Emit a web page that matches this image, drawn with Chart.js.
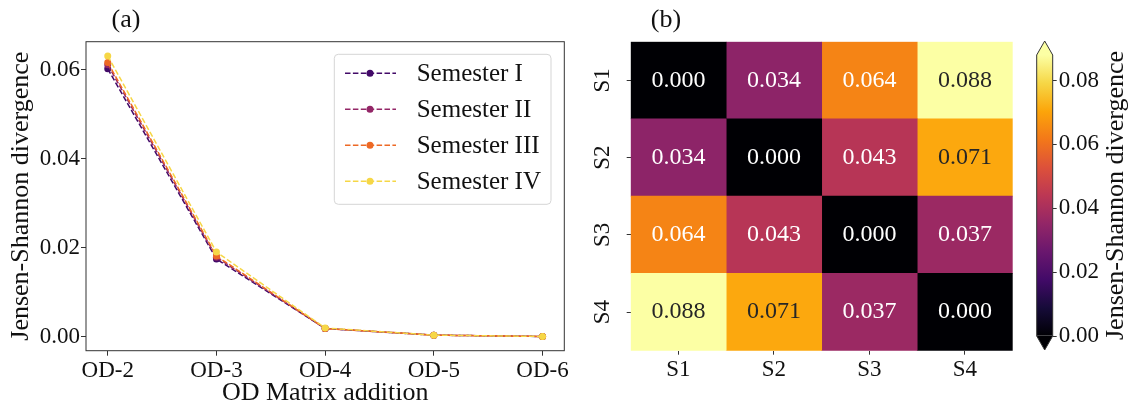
<!DOCTYPE html>
<html>
<head>
<meta charset="utf-8">
<script src="https://cdn.jsdelivr.net/npm/chart.js@4.4.1/dist/chart.umd.min.js"></script>
<style>
  html, body { margin: 0; padding: 0; background: #fff; }
  #wrap { position: relative; width: 1128px; height: 406px; }
  .box { position: absolute; top: 0; height: 406px; }
  #boxA { left: 0; width: 580px; }
  #boxB { left: 580px; width: 440px; }
  #boxC { left: 1020px; width: 108px; }
</style>
</head>
<body>
<div id="wrap">
  <div class="box" id="boxA"><canvas id="lineChart"></canvas></div>
  <div class="box" id="boxB"><canvas id="heatChart"></canvas></div>
  <div class="box" id="boxC"><canvas id="barChart"></canvas></div>
</div>
<script>
// panel (a) data
var odLabels = ['OD-2', 'OD-3', 'OD-4', 'OD-5', 'OD-6'];
var semesterNames = ['Semester I', 'Semester II', 'Semester III', 'Semester IV'];
var semester1 = [0.0602, 0.0174, 0.0018, 0.0003, 0.0000];
var semester2 = [0.0611, 0.0178, 0.0018, 0.0003, 0.0000];
var semester3 = [0.0616, 0.0181, 0.0018, 0.0003, 0.0000];
var semester4 = [0.0631, 0.0190, 0.0019, 0.0003, 0.0000];
var lineColors = ['#420a68', '#932667', '#ed6925', '#f6d746'];
var yTicks = [0, 0.02, 0.04, 0.06];

// panel (b) data
var semLabels = ['S1', 'S2', 'S3', 'S4'];
var jsdMatrix = [
  [0.000, 0.034, 0.064, 0.088],
  [0.034, 0.000, 0.043, 0.071],
  [0.064, 0.043, 0.000, 0.037],
  [0.088, 0.071, 0.037, 0.000]
];
var colorbarTicks = [0, 0.02, 0.04, 0.06, 0.08];

var fontFamily = "'Liberation Serif', serif";
var axisColor = '#333';
Chart.defaults.font.family = fontFamily;
Chart.defaults.color = '#111';

// inferno colormap, stops every 0.1
var infernoStops = ['#000004', '#160b39', '#420a68', '#6a176e', '#932667', '#bc3754',
  '#dd513a', '#f37819', '#fca50a', '#f6d746', '#fcffa4'];
function hexRgb(h) {
  return [parseInt(h.substr(1, 2), 16), parseInt(h.substr(3, 2), 16), parseInt(h.substr(5, 2), 16)];
}
function inferno(t) {
  t = Math.max(0, Math.min(1, t));
  var p = t * 10, i = Math.min(9, Math.floor(p)), f = p - i;
  var a = hexRgb(infernoStops[i]), b = hexRgb(infernoStops[i + 1]);
  var c = a.map(function (v, k) { return Math.round(v + (b[k] - v) * f); });
  return 'rgb(' + c.join(',') + ')';
}
function textColorFor(rgb) {
  // same rule as seaborn: dark text on light cells
  var c = rgb.match(/\d+/g).map(function (v) {
    v = v / 255;
    return v <= 0.03928 ? v / 12.92 : Math.pow((v + 0.055) / 1.055, 2.4);
  });
  var lum = 0.2126 * c[0] + 0.7152 * c[1] + 0.0722 * c[2];
  return lum > 0.408 ? '#262626' : '#ffffff';
}
var vmax = Math.max.apply(null, jsdMatrix.map(function (r) { return Math.max.apply(null, r); }));

function panelLabel(text, dx) {
  return {
    id: 'panelLabel',
    afterDraw: function (chart) {
      var c = chart.ctx;
      c.save();
      c.font = '26px ' + fontFamily;
      c.fillStyle = '#111';
      c.textAlign = 'center';
      c.textBaseline = 'middle';
      c.fillText(text, chart.chartArea.left + dx, 20);
      c.restore();
    }
  };
}

// ---------- (a) line chart ----------
var framePlugin = {
  id: 'frame',
  afterDraw: function (chart) {
    var a = chart.chartArea, c = chart.ctx;
    c.save();
    c.strokeStyle = axisColor;
    c.lineWidth = 1;
    c.strokeRect(a.left, a.top, a.right - a.left, a.bottom - a.top);
    c.restore();
  }
};

var legendPlugin = {
  id: 'boxLegend',
  afterDraw: function (chart) {
    var a = chart.chartArea, c = chart.ctx;
    var w = 216.7, h = 150;
    var left = a.right - 13.3 - w, top = a.top + 12.6;
    c.save();
    c.beginPath();
    c.roundRect(left, top, w, h, 4);
    c.fillStyle = 'rgba(255,255,255,0.8)';
    c.fill();
    c.strokeStyle = '#d5d5d5';
    c.lineWidth = 1;
    c.stroke();
    chart.data.datasets.forEach(function (ds, k) {
      var y = top + 19 + 36 * k;
      c.strokeStyle = ds.borderColor;
      c.lineWidth = 1.5;
      c.setLineDash([5.5, 2.4]);
      c.beginPath();
      c.moveTo(left + 10.7, y);
      c.lineTo(left + 61.7, y);
      c.stroke();
      c.setLineDash([]);
      c.fillStyle = ds.borderColor;
      c.beginPath();
      c.arc(left + 35.7, y, 3.5, 0, Math.PI * 2);
      c.fill();
      c.fillStyle = '#111';
      c.font = '25px ' + fontFamily;
      c.textAlign = 'left';
      c.textBaseline = 'middle';
      c.fillText(ds.label, left + 82.4, y + 1);
    });
    c.restore();
  }
};

var lineDatasets = [semester1, semester2, semester3, semester4].map(function (vals, k) {
  return {
    label: semesterNames[k],
    data: vals.map(function (v, i) { return { x: i, y: v }; }),
    borderColor: lineColors[k],
    backgroundColor: lineColors[k],
    borderWidth: 1.5,
    borderDash: [5.5, 2.4],
    pointRadius: 3.5,
    pointBorderWidth: 0,
    tension: 0,
    order: 3 - k
  };
});

new Chart(document.getElementById('lineChart'), {
  type: 'line',
  data: { datasets: lineDatasets },
  options: {
    responsive: true,
    maintainAspectRatio: false,
    animation: false,
    events: [],
    layout: { padding: { left: 0, top: 41.7, right: 15.7, bottom: 0 } },
    plugins: { legend: { display: false }, tooltip: { enabled: false } },
    scales: {
      x: {
        type: 'linear',
        min: -0.2,
        max: 4.2,
        afterBuildTicks: function (s) { s.ticks = odLabels.map(function (l, i) { return { value: i }; }); },
        afterFit: function (s) { s.height = 55.3; },
        ticks: {
          font: { size: 23 },
          padding: 1,
          maxRotation: 0,
          callback: function (v) { return odLabels[v]; }
        },
        grid: { drawOnChartArea: false, drawTicks: true, tickLength: 5, color: axisColor },
        border: { display: false },
        title: { display: true, text: 'OD Matrix addition', font: { size: 26, lineHeight: 1 }, padding: { top: 0, bottom: 0 } }
      },
      y: {
        type: 'linear',
        min: -0.0032,
        max: 0.0663,
        afterBuildTicks: function (s) { s.ticks = yTicks.map(function (v) { return { value: v }; }); },
        afterFit: function (s) { s.width = 86; },
        ticks: {
          font: { size: 23 },
          padding: 1,
          callback: function (v) { return v.toFixed(2); }
        },
        grid: { drawOnChartArea: false, drawTicks: true, tickLength: 5, color: axisColor },
        border: { display: false },
        title: { display: true, text: 'Jensen-Shannon divergence', font: { size: 26, lineHeight: 1 }, padding: { top: 8, bottom: 0 } }
      }
    }
  },
  plugins: [framePlugin, legendPlugin, panelLabel('(a)', 40)]
});

// ---------- (b) heatmap ----------
var heatDatasets = semLabels.map(function (col, j) {
  return {
    label: col,
    data: semLabels.map(function () { return 1; }),
    backgroundColor: jsdMatrix.map(function (row) { return inferno(row[j] / vmax); }),
    borderWidth: 0,
    barPercentage: 1,
    categoryPercentage: 1
  };
});

var annotatePlugin = {
  id: 'annotate',
  afterDatasetsDraw: function (chart) {
    var c = chart.ctx;
    c.save();
    c.font = '24px ' + fontFamily;
    c.textAlign = 'center';
    c.textBaseline = 'middle';
    chart.data.datasets.forEach(function (ds, j) {
      chart.getDatasetMeta(j).data.forEach(function (bar, i) {
        var v = jsdMatrix[i][j];
        c.fillStyle = textColorFor(inferno(v / vmax));
        c.fillText(v.toFixed(3), (bar.x + bar.base) / 2, bar.y);
      });
    });
    c.restore();
  }
};

var rowLabelPlugin = {
  id: 'rowLabels',
  afterDraw: function (chart) {
    var ys = chart.scales.y, c = chart.ctx;
    c.save();
    c.font = '23px ' + fontFamily;
    c.fillStyle = '#111';
    c.textAlign = 'center';
    c.textBaseline = 'middle';
    semLabels.forEach(function (l, i) {
      c.save();
      c.translate(chart.chartArea.left - 28, ys.getPixelForValue(i));
      c.rotate(-Math.PI / 2);
      c.fillText(l, 0, 0);
      c.restore();
    });
    c.restore();
  }
};

new Chart(document.getElementById('heatChart'), {
  type: 'bar',
  data: { labels: semLabels, datasets: heatDatasets },
  options: {
    indexAxis: 'y',
    responsive: true,
    maintainAspectRatio: false,
    animation: false,
    events: [],
    layout: { padding: { left: 0, top: 41.7, right: 7.3, bottom: 0 } },
    plugins: { legend: { display: false }, tooltip: { enabled: false } },
    scales: {
      x: {
        type: 'linear',
        stacked: true,
        min: 0,
        max: semLabels.length,
        afterBuildTicks: function (s) { s.ticks = semLabels.map(function (l, i) { return { value: i + 0.5 }; }); },
        afterFit: function (s) { s.height = 55.3; },
        ticks: {
          font: { size: 23 },
          padding: 1,
          maxRotation: 0,
          callback: function (v) { return semLabels[Math.floor(v)]; }
        },
        grid: { drawOnChartArea: false, drawTicks: true, tickLength: 4, color: axisColor },
        border: { display: false }
      },
      y: {
        type: 'category',
        stacked: true,
        afterFit: function (s) { s.width = 50.7; },
        ticks: { display: false },
        grid: { drawOnChartArea: false, drawTicks: true, tickLength: 4, offset: false, color: axisColor },
        border: { display: false }
      }
    }
  },
  plugins: [annotatePlugin, rowLabelPlugin, panelLabel('(b)', 35.3)]
});

// ---------- colorbar ----------
var extendPlugin = {
  id: 'extend',
  afterDraw: function (chart) {
    var ys = chart.scales.y, a = chart.chartArea, c = chart.ctx;
    var top = ys.getPixelForValue(vmax), bottom = ys.getPixelForValue(0);
    var mid = (a.left + a.right) / 2, h = 14;
    c.save();
    c.fillStyle = inferno(1);
    c.beginPath();
    c.moveTo(a.left, top); c.lineTo(mid, top - h); c.lineTo(a.right, top); c.closePath();
    c.fill();
    c.fillStyle = inferno(0);
    c.beginPath();
    c.moveTo(a.left, bottom); c.lineTo(mid, bottom + h); c.lineTo(a.right, bottom); c.closePath();
    c.fill();
    c.strokeStyle = axisColor;
    c.lineWidth = 1;
    c.beginPath();
    c.moveTo(a.left, top); c.lineTo(mid, top - h); c.lineTo(a.right, top);
    c.lineTo(a.right, bottom); c.lineTo(mid, bottom + h); c.lineTo(a.left, bottom);
    c.closePath();
    c.stroke();
    // colorbar label, reading bottom to top
    c.font = '26px ' + fontFamily;
    c.fillStyle = '#111';
    c.textAlign = 'center';
    c.textBaseline = 'middle';
    c.translate(95.7, (top + bottom) / 2);
    c.rotate(-Math.PI / 2);
    c.fillText('Jensen-Shannon divergence', 0, 0);
    c.restore();
  }
};

new Chart(document.getElementById('barChart'), {
  type: 'bar',
  data: {
    labels: ['cb'],
    datasets: [{
      data: [[0, vmax]],
      backgroundColor: function (ctx) {
        var area = ctx.chart.chartArea;
        if (!area) return inferno(0);
        var g = ctx.chart.ctx.createLinearGradient(0, area.bottom, 0, area.top);
        infernoStops.forEach(function (col, k) { g.addColorStop(k / 10, col); });
        return g;
      },
      borderWidth: 0,
      barPercentage: 1,
      categoryPercentage: 1
    }]
  },
  options: {
    responsive: true,
    maintainAspectRatio: false,
    animation: false,
    events: [],
    layout: { padding: { left: 16.7, top: 55, right: 0, bottom: 70 } },
    plugins: { legend: { display: false }, tooltip: { enabled: false } },
    scales: {
      x: { display: false },
      y: {
        position: 'right',
        min: 0,
        max: vmax,
        afterBuildTicks: function (s) { s.ticks = colorbarTicks.map(function (v) { return { value: v }; }); },
        afterFit: function (s) { s.width = 75.3; },
        ticks: {
          font: { size: 23 },
          padding: 2,
          callback: function (v) { return v.toFixed(2); }
        },
        grid: { drawOnChartArea: false, drawTicks: true, tickLength: 4, color: axisColor },
        border: { display: false }
      }
    }
  },
  plugins: [extendPlugin]
});
</script>
</body>
</html>
